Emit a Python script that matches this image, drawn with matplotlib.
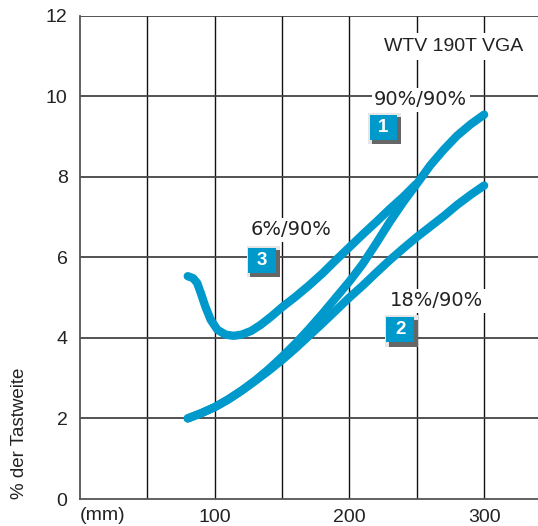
import matplotlib
matplotlib.use("Agg")
import matplotlib.pyplot as plt
from matplotlib.offsetbox import DrawingArea, AnnotationBbox
from matplotlib.patches import Rectangle
from matplotlib.text import Text

plt.rcParams['font.family'] = ['Liberation Sans', 'DejaVu Sans']

# ---------------- data ----------------
x_1 = [80, 90, 100, 110, 120, 130, 140, 150, 160, 170, 180, 190, 200,
       210, 220, 230, 240, 250, 260, 270, 280, 290, 300]
y_1 = [2.0, 2.13, 2.28, 2.47, 2.69, 2.94, 3.22, 3.53, 3.86, 4.22, 4.6, 5.0, 5.4,
       5.84, 6.35, 6.88, 7.37, 7.82, 8.28, 8.67, 9.02, 9.3, 9.54]

x_2 = [80, 90, 100, 110, 120, 130, 140, 150, 160, 170, 180, 190, 200,
       210, 220, 230, 240, 250, 260, 270, 280, 290, 300]
y_2 = [2.0, 2.13, 2.28, 2.47, 2.69, 2.93, 3.18, 3.45, 3.74, 4.05, 4.36, 4.68, 5.0,
       5.3, 5.62, 5.93, 6.22, 6.5, 6.76, 7.02, 7.3, 7.55, 7.78]

x_3 = [80, 84, 87, 90, 93, 97, 102, 108, 114, 120, 127, 134, 142, 150, 160, 170,
       180, 190, 200, 210, 220, 230, 240, 249]
y_3 = [5.53, 5.48, 5.36, 5.08, 4.78, 4.45, 4.2, 4.08, 4.05, 4.08, 4.17, 4.32, 4.53,
       4.76, 5.02, 5.3, 5.6, 5.93, 6.25, 6.57, 6.88, 7.2, 7.5, 7.8]

curve_labels = ['90%/90%', '18%/90%', '6%/90%']
label_pos = [(253, 9.91), (265, 4.92), (157, 6.68)]
badge_text = ['1', '2', '3']
badge_pos = [(226, 9.19), (238.6, 4.17), (136, 5.89)]
title_text = 'WTV 190T VGA'
title_pos = (277, 11.23)

x_ticks = [100, 200, 300]
y_ticks = [0, 2, 4, 6, 8, 10, 12]
x_grid = [50, 100, 150, 200, 250, 300]
y_grid = [2, 4, 6, 8, 10, 12]
ylabel = '% der Tastweite'
xunit = '(mm)'

# ---------------- styling ----------------
BLUE = '#0099CC'
TXT = '#222222'

fig = plt.figure(figsize=(5.38, 5.26), dpi=100)
ax = fig.add_axes([80 / 538, 1 - 499 / 526, 1 - 80 / 538, (499 - 15.5) / 526])
ax.set_xlim(0, 340)
ax.set_ylim(0, 12)

for gx in x_grid:
    ax.axvline(gx, color='#111111', lw=1.0, zorder=1)
for gy in y_grid:
    ax.axhline(gy, color='#444444', lw=1.3, zorder=1)

for s in ['top', 'right']:
    ax.spines[s].set_visible(False)
ax.spines['left'].set_color('#555555')
ax.spines['left'].set_linewidth(1.3)
ax.spines['bottom'].set_color('#555555')
ax.spines['bottom'].set_linewidth(1.3)

ax.set_xticks(x_ticks)
ax.set_yticks(y_ticks)
ax.tick_params(axis='both', length=0, labelsize=14, labelcolor=TXT)
ax.tick_params(axis='x', pad=7)
ax.tick_params(axis='y', pad=9)

for xs, ys in [(x_1, y_1), (x_2, y_2), (x_3, y_3)]:
    ax.plot(xs, ys, color=BLUE, lw=6, solid_capstyle='round',
            solid_joinstyle='round', zorder=3)

ax.text(title_pos[0], title_pos[1], title_text, ha='center', va='center',
        fontsize=14, color=TXT, zorder=4,
        bbox=dict(boxstyle='square,pad=0.25', fc='white', ec='none'))

for lab, (lx, ly) in zip(curve_labels, label_pos):
    ax.text(lx, ly, lab, ha='center', va='center', fontsize=14, color=TXT,
            family=['DejaVu Sans'], zorder=4,
            bbox=dict(boxstyle='square,pad=0.12', fc='white', ec='none'))

for t, (bx, by) in zip(badge_text, badge_pos):
    w, h = 20.5, 19.5
    da = DrawingArea(w + 3, h + 3, 0, 0)
    da.add_artist(Rectangle((0, 0), w + 3, h + 3, fc='#e6e6e6', ec='none'))
    da.add_artist(Rectangle((2.5, 0), w + 0.5, h, fc='#666666', ec='none'))
    da.add_artist(Rectangle((1, 3), w - 0.5, h - 1.5, fc=BLUE, ec='none'))
    da.add_artist(Text((w + 0.5) / 2 + 0.5, 3 + (h - 1.5) / 2, t, color='white',
                       fontsize=13.5, fontweight='bold', ha='center', va='center',
                       family=['Liberation Sans', 'DejaVu Sans']))
    ab = AnnotationBbox(da, (bx, by), frameon=False, box_alignment=(0.5, 0.5),
                        pad=0, zorder=5)
    ax.add_artist(ab)

ax.annotate(xunit, xy=(0, 0), xycoords='data', xytext=(0, -12),
            textcoords='offset points', ha='left', va='center',
            fontsize=14, color=TXT)

fig.text(19.5 / 538, 1 - 433 / 526, ylabel, rotation=90, ha='center',
         va='center', fontsize=13.5, color=TXT)

fig.savefig('out.png', dpi=100)
